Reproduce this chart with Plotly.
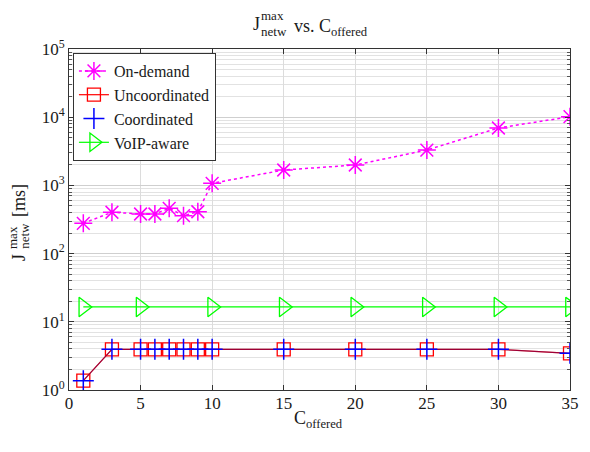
import plotly.graph_objects as go

# Offered channel counts
c_offered = [1, 3, 5, 6, 7, 8, 9, 10, 15, 20, 25, 30, 35]
c_voip = [1, 5, 10, 15, 20, 25, 30, 35]

# Maximum network jitter (ms)
on_demand = [278, 404, 381, 381, 461, 360, 411, 1074, 1682, 1991, 3300, 6950, 10170]
uncoordinated = [1.37, 3.95, 3.95, 3.95, 3.95, 3.95, 3.95, 3.95, 3.95, 3.95, 3.95, 3.95, 3.45]
coordinated = [1.37, 3.95, 3.95, 3.95, 3.95, 3.95, 3.95, 3.95, 3.95, 3.95, 3.95, 3.95, 3.45]
voip_aware = [16.5, 16.5, 16.5, 16.5, 16.5, 16.5, 16.5, 16.5]

x_ticks = [0, 5, 10, 15, 20, 25, 30, 35]
y_exps = [0, 1, 2, 3, 4, 5]

FONT = "Liberation Serif"
W, H = 590, 452
L, R, T, B = 69, 11, 49, 62
PW, PH = W - L - R, H - T - B


def px(x):
    return (x - L) / PW


def py(y):
    return (H - B - y) / PH


fig = go.Figure()

fig.add_trace(go.Scatter(
    x=c_offered, y=on_demand, name="On-demand", mode="lines+markers",
    line=dict(color="#ff00ff", width=1.5, dash="dot"),
    marker=dict(symbol="asterisk-open", size=15, line=dict(color="#ff00ff", width=1.5)),
))
fig.add_trace(go.Scatter(
    x=c_offered, y=uncoordinated, name="Uncoordinated", mode="lines+markers",
    line=dict(color="#ff0000", width=1.2),
    marker=dict(symbol="square-open", size=13, color="#ff0000", line=dict(width=1.3)),
))
# shared line of the two overlapping series
fig.add_trace(go.Scatter(
    x=c_offered, y=coordinated, mode="lines", showlegend=False, hoverinfo="skip",
    line=dict(color="rgba(40,0,120,0.45)", width=1.2),
))
fig.add_trace(go.Scatter(
    x=c_offered, y=coordinated, name="Coordinated", mode="lines+markers",
    line=dict(color="rgba(0,0,255,0)", width=1.2),
    marker=dict(symbol="cross-thin-open", size=15, color="#0000ff", line=dict(width=1.5, color="#0000ff")),
))
fig.add_trace(go.Scatter(
    x=c_voip, y=voip_aware, name="VoIP-aware", mode="lines+markers",
    line=dict(color="#00ff00", width=1.2),
    marker=dict(symbol="triangle-right-open", size=17, color="#00ff00", line=dict(width=1.3)),
))

minor_vals = [m * 10 ** e for e in range(0, 5) for m in range(2, 10)]

fig.update_layout(
    width=W, height=H,
    margin=dict(l=L, r=R, t=T, b=B),
    paper_bgcolor="white", plot_bgcolor="white",
    font=dict(family=FONT, size=17, color="#1a1a1a"),
    showlegend=True,
    legend=dict(
        x=px(73), y=py(53), xanchor="left", yanchor="top",
        bgcolor="white", bordercolor="#333333", borderwidth=1,
        font=dict(family=FONT, size=16, color="#1a1a1a"),
        tracegroupgap=0, itemwidth=30,
    ),
    xaxis=dict(
        range=[0, 35], tickvals=x_ticks, ticktext=[str(v) for v in x_ticks],
        ticks="inside", ticklen=5, tickcolor="#333333",
        showline=True, linecolor="#333333", linewidth=1, mirror="ticks",
        showgrid=True, gridcolor="#dcdcdc", gridwidth=1,
        zeroline=False, tickfont=dict(family=FONT, size=17),
        ticklabelstandoff=-2,
    ),
    yaxis=dict(
        type="log", range=[0, 5],
        tickvals=[10 ** e for e in y_exps],
        ticktext=[f"10<sup>{e}</sup>" for e in y_exps],
        ticks="inside", ticklen=5, tickcolor="#333333",
        showline=True, linecolor="#333333", linewidth=1, mirror="ticks",
        showgrid=True, gridcolor="#cfcfcf", gridwidth=1,
        zeroline=False, tickfont=dict(family=FONT, size=17),
        minor=dict(
            tickmode="array", tickvals=minor_vals, ticks="inside", ticklen=3,
            tickcolor="#555555", showgrid=True, gridcolor="#e2e2e2", gridwidth=1,
        ),
    ),
)

ann = []
# Title: J^max_netw vs. C_offered
ann.append(dict(text="J", x=px(254), y=py(24), xanchor="left", yanchor="middle",
                font=dict(size=18)))
ann.append(dict(text="max", x=px(262), y=py(15), xanchor="left", yanchor="middle",
                font=dict(size=13)))
ann.append(dict(text="netw", x=px(262), y=py(31), xanchor="left", yanchor="middle",
                font=dict(size=13)))
ann.append(dict(text="vs. C<sub>offered</sub>", x=px(296), y=py(27), xanchor="left",
                yanchor="middle", font=dict(size=18)))
# X axis title
ann.append(dict(text="C<sub>offered</sub>", x=px(323), y=py(419), xanchor="center",
                yanchor="middle", font=dict(size=18)))
# Y axis title, rotated
ann.append(dict(text="J", x=px(18), y=py(257), xanchor="center", yanchor="middle",
                textangle=-90, font=dict(size=18)))
ann.append(dict(text="max", x=px(12), y=py(238), xanchor="center", yanchor="middle",
                textangle=-90, font=dict(size=13)))
ann.append(dict(text="netw", x=px(24), y=py(236), xanchor="center", yanchor="middle",
                textangle=-90, font=dict(size=13)))
ann.append(dict(text="[ms]", x=px(18), y=py(200), xanchor="center", yanchor="middle",
                textangle=-90, font=dict(size=18)))

for a in ann:
    a.update(xref="paper", yref="paper", showarrow=False)
    a["font"]["family"] = FONT
fig.update_layout(annotations=ann)

fig.write_html("out.html")
